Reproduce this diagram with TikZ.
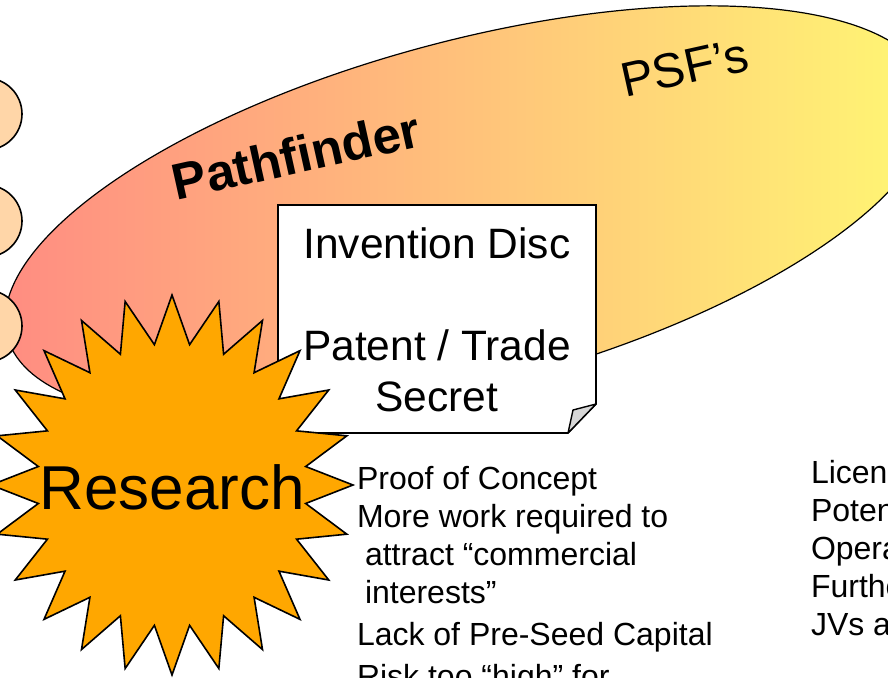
\documentclass[tikz,border=0pt]{standalone}
\usepackage{fontspec}
\setmainfont{Liberation Sans}
\definecolor{zoneleft}{RGB}{255,138,130}
\definecolor{zoneright}{RGB}{255,250,115}
\definecolor{peach}{RGB}{255,214,168}
\definecolor{burstorange}{RGB}{255,167,0}
\definecolor{flapgray}{RGB}{215,215,215}
\begin{document}
\begin{tikzpicture}[x=1pt,y=-1pt,
		every node/.style={inner sep=0pt,outer sep=0pt},
		zone/.style={draw,line width=1.2pt,left color=zoneleft,right color=zoneright},
		bubble/.style={circle,draw,line width=1.6pt,fill=peach,minimum size=72pt},
		note/.style={draw,line width=1.6pt,fill=white,line join=miter},
		flap/.style={draw,line width=1.4pt,fill=flapgray,line join=round},
		burst/.style={draw,line width=1.6pt,fill=burstorange,line join=miter},
		bold/.style={font=\fontsize{51}{60}\selectfont\bfseries},
		tag/.style={font=\fontsize{48.5}{58}\selectfont},
		notetext/.style={align=center,font=\fontsize{42.5}{51}\selectfont},
		bigtext/.style={font=\fontsize{62}{74}\selectfont},
		list/.style={align=left,font=\fontsize{32}{38}\selectfont},
	]
	\useasboundingbox (0,0) rectangle (888,677);
	\clip (0,0) rectangle (888,677);
	\path[zone,rotate around={15:(469,213)}] (469,213) ellipse [x radius=478,y radius=172];
	\node[bubble] (bubA) at (-14,114) {};
	\node[bubble] (bubB) at (-14,221) {};
	\node[bubble] (bubC) at (-14,326) {};
	\node[bold,rotate=12.5,anchor=base] (pathf) at (300,173) {Pathfinder};
	\node[tag,rotate=12.5,anchor=base] (psf) at (688,84) {PSF’s};
	\draw[note] (278,205) -- (596,205) -- (596,404) -- (568,433) -- (278,433) -- cycle;
	\draw[flap] (596,404) -- (573,410) -- (568,433) -- cycle;
	\node[notetext,anchor=base] (disc) at (437,411) {Invention Disc\\[51pt]Patent / Trade\\Secret};
	\draw[burst,shift={(172,485)}] (0:181 and 190)
		\foreach \i [evaluate=\i as \r using {mod(\i,2)==0 ? 1 : 0.745}] in {1,...,47} {
			-- ({\i*7.5}:{181*\r} and {190*\r})
		} -- cycle;
	\node[bigtext] (research) at (172,487) {Research};
	\node[list,anchor=base west] (proof) at (357,687) {Proof of Concept\\More work required to\\\hspace*{8pt}attract “commercial\\\hspace*{8pt}interests”\\[4pt]Lack of Pre-Seed Capital\\[4pt]Risk too “high” for};
	\node[list,anchor=base west] (licen) at (811,635) {Licen\\Poten\\Opera\\Furthe\\JVs a};
\end{tikzpicture}
\end{document}
